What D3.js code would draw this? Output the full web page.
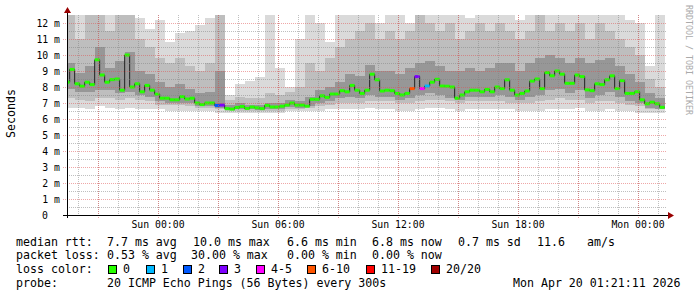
<!DOCTYPE html>
<html>
<head>
<meta charset="utf-8">
<script src="https://cdn.jsdelivr.net/npm/d3@7"></script>
<style>
  body { margin: 0; background: #fff; }
  text { font-family: "DejaVu Sans Mono", monospace; fill: #000; }
</style>
</head>
<body>
<svg id="chart" width="697" height="297"></svg>
<script>
// median rtt (ms), one value per 15 min starting Sat 19:20
const medianStart = new Date(2026, 3, 18, 19, 20);
const medianStepMin = 15;
const medianRtt = [
  8.3, 9.1, 8.2, 8.05, 8.3, 8.15, 9.7, 8.75, 8.3, 8.46,
  8.5, 7.8, 10.0, 8.0, 8.2, 7.7, 8.1, 7.8, 7.55, 7.3,
  7.3, 7.2, 7.2, 7.4, 7.25, 7.3, 7.0, 6.9, 7.0, 7.0,
  6.85, 6.87, 6.65, 6.62, 6.72, 6.78, 6.66, 6.75, 6.7, 6.65,
  6.85, 6.75, 6.75, 6.8, 6.87, 7.0, 6.87, 6.87, 6.8, 7.23,
  7.23, 7.45, 7.35, 7.56, 7.56, 7.77, 7.7, 8.1, 7.8, 7.6,
  7.8, 8.8, 8.45, 7.75, 7.8, 7.77, 7.6, 7.5, 7.6, 7.9,
  8.65, 7.9, 8.06, 8.3, 8.48, 8.06, 8.05, 8.0, 7.3, 7.5,
  7.7, 7.8, 7.8, 7.7, 7.85, 7.7, 8.0, 7.9, 8.45, 7.8,
  7.5, 7.6, 7.75, 8.37, 8.5, 7.9, 8.9, 8.7, 9.0, 8.8,
  8.23, 8.23, 8.75, 8.65, 7.82, 7.77, 8.2, 8.15, 8.45, 8.7,
  7.9, 8.4, 7.6, 7.6, 7.7, 7.2, 6.95, 7.05, 6.95, 6.73
];
// lost pings out of 20 for each median step
const lossCount = [
  0, 0, 0, 0, 0, 0, 0, 0, 0, 0,
  0, 0, 0, 0, 0, 0, 0, 0, 0, 0,
  0, 0, 0, 0, 0, 0, 0, 0, 0, 0,
  2, 3, 0, 0, 0, 0, 0, 0, 0, 0,
  0, 0, 0, 0, 0, 0, 0, 0, 0, 0,
  0, 0, 0, 0, 0, 0, 0, 0, 0, 0,
  0, 0, 0, 0, 0, 0, 0, 0, 0, 7,
  3, 4, 1, 0, 0, 0, 0, 0, 0, 0,
  0, 0, 0, 0, 0, 0, 0, 0, 0, 0,
  0, 0, 0, 0, 0, 0, 0, 0, 0, 0,
  0, 0, 0, 0, 0, 0, 0, 0, 0, 0,
  0, 0, 0, 0, 0, 0, 0, 0, 0, 0
];

// smoke (ping spread, ms), one value per 30 min
const smokeStepMin = 30;
const smokeMin = [
  6.7, 6.7, 6.6, 6.8, 6.7, 6.6, 6.7, 6.6, 6.6, 6.6,
  6.5, 6.5, 6.5, 6.5, 6.5, 6.4, 6.4, 6.4, 6.4, 6.4,
  6.4, 6.4, 6.5, 6.5, 6.5, 6.5, 6.6, 6.6, 6.6, 6.6,
  6.7, 6.6, 6.6, 6.5, 6.5, 6.6, 6.7, 6.7, 6.6, 6.5,
  6.6, 6.6, 6.6, 6.6, 6.6, 6.5, 6.5, 6.5, 6.6, 6.6,
  6.6, 6.7, 6.5, 6.5, 6.6, 6.5, 6.5, 6.4, 6.4, 6.4
];
const smokeLo = [
  7.3, 7.2, 7.1, 7.3, 7.3, 7.2, 7.3, 7.2, 7.1, 6.9,
  6.9, 6.9, 6.8, 6.7, 6.7, 6.6, 6.5, 6.5, 6.5, 6.5,
  6.5, 6.5, 6.6, 6.6, 6.7, 6.8, 6.9, 7.0, 7.0, 7.0,
  7.1, 7.1, 7.1, 7.0, 7.0, 7.1, 7.2, 7.2, 7.1, 7.0,
  7.1, 7.1, 7.1, 7.1, 7.0, 7.0, 7.0, 7.1, 7.2, 7.3,
  7.2, 7.2, 7.0, 7.1, 7.1, 7.0, 6.9, 6.8, 6.6, 6.6
];
const smokeCoreLo = [
  7.9, 7.7, 7.7, 7.8, 7.8, 7.6, 7.7, 7.5, 7.4, 7.1,
  7.0, 7.0, 7.0, 6.8, 6.8, 6.7, 6.55, 6.6, 6.6, 6.55,
  6.6, 6.6, 6.75, 6.7, 6.8, 7.0, 7.1, 7.3, 7.4, 7.3,
  7.5, 7.4, 7.4, 7.2, 7.3, 7.5, 7.6, 7.5, 7.3, 7.2,
  7.4, 7.4, 7.4, 7.5, 7.4, 7.2, 7.4, 7.5, 7.8, 7.9,
  7.6, 7.8, 7.3, 7.5, 7.7, 7.4, 7.1, 7.0, 6.7, 6.6
];
const smokeCoreHi = [
  9.5, 8.9, 9.3, 10.5, 9.2, 9.6, 10.2, 9.0, 8.8, 8.3,
  8.0, 8.2, 7.9, 7.6, 7.7, 9.0, 6.9, 7.0, 6.9, 6.9,
  7.0, 7.0, 7.2, 7.1, 7.4, 7.8, 8.0, 8.3, 8.8, 8.7,
  9.4, 9.0, 9.0, 8.8, 9.2, 9.5, 9.6, 9.3, 9.0, 9.0,
  9.2, 9.0, 9.2, 9.5, 9.5, 9.0, 9.5, 9.8, 10.0, 9.8,
  9.5, 9.8, 9.5, 9.7, 9.8, 9.3, 8.8, 8.3, 7.6, 7.3
];
const smokeMidHi = [
  12.5, 11.0, 12.5, 12.5, 11.5, 12.5, 12.5, 11.0, 10.5, 9.8,
  9.5, 9.8, 9.3, 9.0, 9.5, 12.5, 7.2, 7.4, 7.3, 7.3,
  7.6, 7.5, 7.7, 8.0, 9.5, 9.0, 9.8, 10.5, 11.0, 11.5,
  12.0, 11.0, 11.5, 11.0, 11.5, 12.5, 12.0, 11.5, 12.0, 11.0,
  11.5, 12.0, 11.5, 12.0, 11.5, 11.0, 11.5, 12.5, 11.5, 12.0,
  11.5, 12.0, 11.0, 12.0, 11.5, 11.0, 10.5, 10.0, 8.5, 8.0
];
const smokeMax = [
  12.5, 12.5, 12.5, 12.5, 12.5, 12.5, 12.5, 12.3, 11.6, 12.2,
  10.8, 11.4, 11.5, 11.9, 12.3, 12.5, 7.5, 8.2, 8.4, 8.6,
  12.5, 9.2, 8.0, 11.0, 12.5, 12.0, 10.8, 12.5, 12.5, 12.5,
  12.5, 12.0, 12.5, 12.5, 12.0, 12.5, 12.5, 12.5, 12.5, 12.5,
  12.3, 12.5, 12.5, 12.5, 12.5, 12.2, 12.5, 12.5, 12.5, 12.5,
  12.5, 12.5, 12.5, 12.5, 12.5, 12.5, 12.2, 12.0, 9.3, 12.5
];

const yTickValues = [0, 1, 2, 3, 4, 5, 6, 7, 8, 9, 10, 11, 12];
const lossLabels = ["0", "1", "2", "3", "4-5", "6-10", "11-19", "20/20"];
const lossColors = ["#26ff00", "#00b8ff", "#0059ff", "#7e00ff", "#ff00ff", "#ff5500", "#ff0000", "#a10000"];
const statRows = [
  ["median rtt:", "7.7 ms avg", "10.0 ms max", "6.6 ms min", "6.8 ms now", "0.7 ms sd", "11.6", "am/s"],
  ["packet loss:", "0.53 % avg", "30.00 % max", "0.00 % min", "0.00 % now"],
  ["loss color:"],
  ["probe:", "20 ICMP Echo Pings (56 Bytes) every 300s", "Mon Apr 20 01:21:11 2026"]
];

// layout
const plot = { left: 67, right: 667, top: 15, bottom: 215 };
const statCols = [
  [16, 107, 193, 287, 372, 458, 537, 587],
  [16, 107, 191, 287, 372],
  [16],
  [16, 107, 513]
];
const rowBaselines = [245.5, 259.2, 272.9, 286.6];
const lossBoxX = [108, 146, 183, 219, 256, 307, 366, 431];

const svg = d3.select("#chart");

const x = d3.scaleTime()
  .domain([new Date(2026, 3, 18, 19, 27), new Date(2026, 3, 20, 1, 27)])
  .range([plot.left, plot.right]);
const y = d3.scaleLinear().domain([0, 12.5]).range([plot.bottom, plot.top]);

svg.append("defs").append("clipPath").attr("id", "plotclip")
  .append("rect")
  .attr("x", plot.left).attr("y", plot.top)
  .attr("width", plot.right - plot.left).attr("height", plot.bottom - plot.top);

const tAt = (start, stepMin, i) => d3.timeMinute.offset(start, stepMin * i);
const lossBucket = (n) => n === 0 ? 0 : n === 1 ? 1 : n === 2 ? 2 : n === 3 ? 3 :
  n <= 5 ? 4 : n <= 10 ? 5 : n < 20 ? 6 : 7;

// smoke
const plotG = svg.append("g").attr("clip-path", "url(#plotclip)");
const bands = [
  { lo: smokeMin, hi: smokeMax, color: "#dadada" },
  { lo: smokeLo, hi: smokeMidHi, color: "#bebebe" },
  { lo: smokeCoreLo, hi: smokeCoreHi, color: "#979797" }
];
bands.forEach((b) => {
  plotG.append("g")
    .selectAll("rect")
    .data(b.lo.map((v, i) => ({ i, lo: v, hi: b.hi[i] })))
    .enter()
    .append("rect")
    .attr("x", (d) => x(tAt(medianStart, smokeStepMin, d.i)))
    .attr("width", (d) => x(tAt(medianStart, smokeStepMin, d.i + 1)) - x(tAt(medianStart, smokeStepMin, d.i)))
    .attr("y", (d) => y(d.hi))
    .attr("height", (d) => y(d.lo) - y(d.hi))
    .attr("fill", b.color)
    .attr("shape-rendering", "crispEdges");
});

// grid
const gridG = svg.append("g").attr("shape-rendering", "crispEdges");
const minorY = d3.range(0.5, 12.5, 1);
gridG.selectAll(".hminor").data(minorY).enter().append("line")
  .attr("x1", plot.left).attr("x2", plot.right)
  .attr("y1", (d) => y(d) + 0.5).attr("y2", (d) => y(d) + 0.5)
  .attr("stroke", "rgba(128,128,128,0.5)").attr("stroke-dasharray", "1,1");
gridG.selectAll(".vminor").data(x.ticks(d3.timeHour.every(1))).enter().append("line")
  .attr("y1", plot.top).attr("y2", plot.bottom)
  .attr("x1", (d) => Math.round(x(d)) + 0.5).attr("x2", (d) => Math.round(x(d)) + 0.5)
  .attr("stroke", "rgba(128,128,128,0.5)").attr("stroke-dasharray", "1,1");
gridG.selectAll(".hmajor").data(yTickValues.slice(1)).enter().append("line")
  .attr("x1", plot.left - 4).attr("x2", plot.right)
  .attr("y1", (d) => y(d) + 0.5).attr("y2", (d) => y(d) + 0.5)
  .attr("stroke", "rgba(224,80,80,0.5)").attr("stroke-dasharray", "1,1");
gridG.selectAll(".vmajor").data(x.ticks(d3.timeHour.every(3))).enter().append("line")
  .attr("y1", plot.top).attr("y2", plot.bottom + 3)
  .attr("x1", (d) => Math.round(x(d)) + 0.5).attr("x2", (d) => Math.round(x(d)) + 0.5)
  .attr("stroke", "rgba(224,80,80,0.5)").attr("stroke-dasharray", "1,1");

// median
const medPts = medianRtt.map((v, i) => ({ t: tAt(medianStart, medianStepMin, i), v, loss: lossCount[i] }));
const stepLine = d3.line().curve(d3.curveStepAfter).x((d) => x(d.t)).y((d) => y(d.v));
plotG.append("path")
  .datum(medPts.concat([{ t: tAt(medianStart, medianStepMin, medPts.length), v: medianRtt[medianRtt.length - 1] }]))
  .attr("d", stepLine)
  .attr("fill", "none")
  .attr("stroke", "#222")
  .attr("stroke-width", 1);
plotG.append("g").selectAll("rect").data(medPts).enter().append("rect")
  .attr("x", (d) => x(d.t))
  .attr("width", (d) => x(d3.timeMinute.offset(d.t, medianStepMin)) - x(d.t))
  .attr("y", (d) => y(d.v) - 1.5)
  .attr("height", 3)
  .attr("fill", (d) => lossColors[lossBucket(d.loss)]);

// axes
svg.append("line").attr("x1", plot.left - 4).attr("x2", plot.right + 3)
  .attr("y1", plot.bottom + 0.5).attr("y2", plot.bottom + 0.5)
  .attr("stroke", "#000").attr("shape-rendering", "crispEdges");
svg.append("line").attr("x1", plot.left + 0.5).attr("x2", plot.left + 0.5)
  .attr("y1", plot.bottom + 3).attr("y2", plot.top - 3)
  .attr("stroke", "#000").attr("shape-rendering", "crispEdges");
svg.append("path").attr("d", "M668,212 L674,215.5 L668,219 Z").attr("fill", "#990000");
svg.append("path").attr("d", "M64,13 L67.5,7 L71,13 Z").attr("fill", "#990000");

svg.append("g").selectAll("text").data(yTickValues).enter().append("text")
  .attr("x", (d) => d === 0 ? 48 : 60)
  .attr("y", (d) => y(d) + 3.7)
  .attr("text-anchor", "end")
  .style("font-size", "9.8px")
  .text((d) => d === 0 ? "0" : d + " m");

svg.append("g").selectAll("text").data(x.ticks(d3.timeHour.every(6))).enter().append("text")
  .attr("x", (d) => x(d))
  .attr("y", 227.7)
  .attr("text-anchor", "middle")
  .style("font-size", "9.8px")
  .text(d3.timeFormat("%a %H:%M"));

svg.append("text")
  .attr("transform", "translate(15,113.5) rotate(-90)")
  .attr("text-anchor", "middle")
  .style("font-size", "11.6px")
  .text("Seconds");

svg.append("text")
  .attr("transform", "translate(686,5) rotate(90)")
  .style("font-size", "8.3px")
  .style("fill", "#aaaaaa")
  .text("RRDTOOL / TOBI OETIKER");

// legend
statRows.forEach((row, r) => {
  svg.append("g").selectAll("text").data(row).enter().append("text")
    .attr("x", (d, i) => statCols[r][i])
    .attr("y", rowBaselines[r])
    .style("font-size", "11.6px")
    .text((d) => d);
});
const lossG = svg.append("g");
lossG.selectAll("rect").data(lossLabels).enter().append("rect")
  .attr("x", (d, i) => lossBoxX[i] + 0.5)
  .attr("y", 265.5)
  .attr("width", 8).attr("height", 8)
  .attr("fill", (d, i) => lossColors[i])
  .attr("stroke", "#000");
lossG.selectAll("text").data(lossLabels).enter().append("text")
  .attr("x", (d, i) => lossBoxX[i] + 15)
  .attr("y", rowBaselines[2])
  .style("font-size", "11.6px")
  .text((d) => d);
</script>
</body>
</html>
